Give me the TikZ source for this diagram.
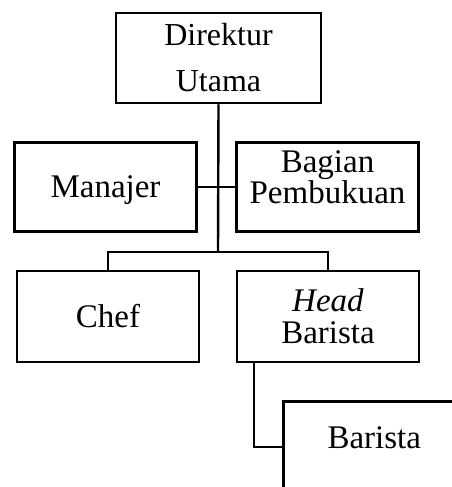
\documentclass[tikz,border=0pt]{standalone}
\usepackage{fontspec}
\setmainfont{Liberation Serif}
\usetikzlibrary{positioning}

\tikzset{
	jabatan/.style={draw, line width=2.5pt, minimum width=182pt, minimum height=90pt, inner sep=0pt, align=center, font=\fontsize{33}{33}\selectfont},
	garis/.style={line width=2.4pt},
}

\begin{document}
\begin{tikzpicture}[x=1pt,y=-1pt]
	\useasboundingbox (0,0) rectangle (452,487);
	\clip (0,0) rectangle (452,487);
	
	%pimpinan
	\node[jabatan, minimum width=205pt, font=\fontsize{32}{46}\selectfont] (direktur) at (218.5,58) {Direktur\\Utama};
	
	%staf
	\node[jabatan, minimum height=89pt, text depth=0pt] (manajer) at (105.5,187) {Manajer};
	\node[jabatan, minimum height=89pt, text height=34pt, font=\fontsize{33}{28}\selectfont] (bagian) at (327.5,187) {Bagian\\Pembukuan};
	
	%bawahan
	\node[jabatan, minimum height=91pt] (chef) at (108,316.5) {Chef};
	\node[jabatan, minimum height=91pt, font=\fontsize{33}{32}\selectfont] (headbar) at (328,316.5) {\textit{Head}\\Barista};
	\node[jabatan, minimum height=91pt, text height=22.5pt, text depth=19pt, anchor=north west] (barista) at (282,400) {Barista};
	
	%garis
	\coordinate (cabang) at (218,252);
	\coordinate (turun) at ([xshift=18pt]headbar.south west);
	\draw[garis] (direktur.south) -- (cabang);
	\draw[garis] (manajer.east) -- (bagian.west);
	\draw[garis] (chef.north) |- (cabang) -| (headbar.north);
	\draw[garis] (turun) |- (barista.west);
\end{tikzpicture}
\end{document}
